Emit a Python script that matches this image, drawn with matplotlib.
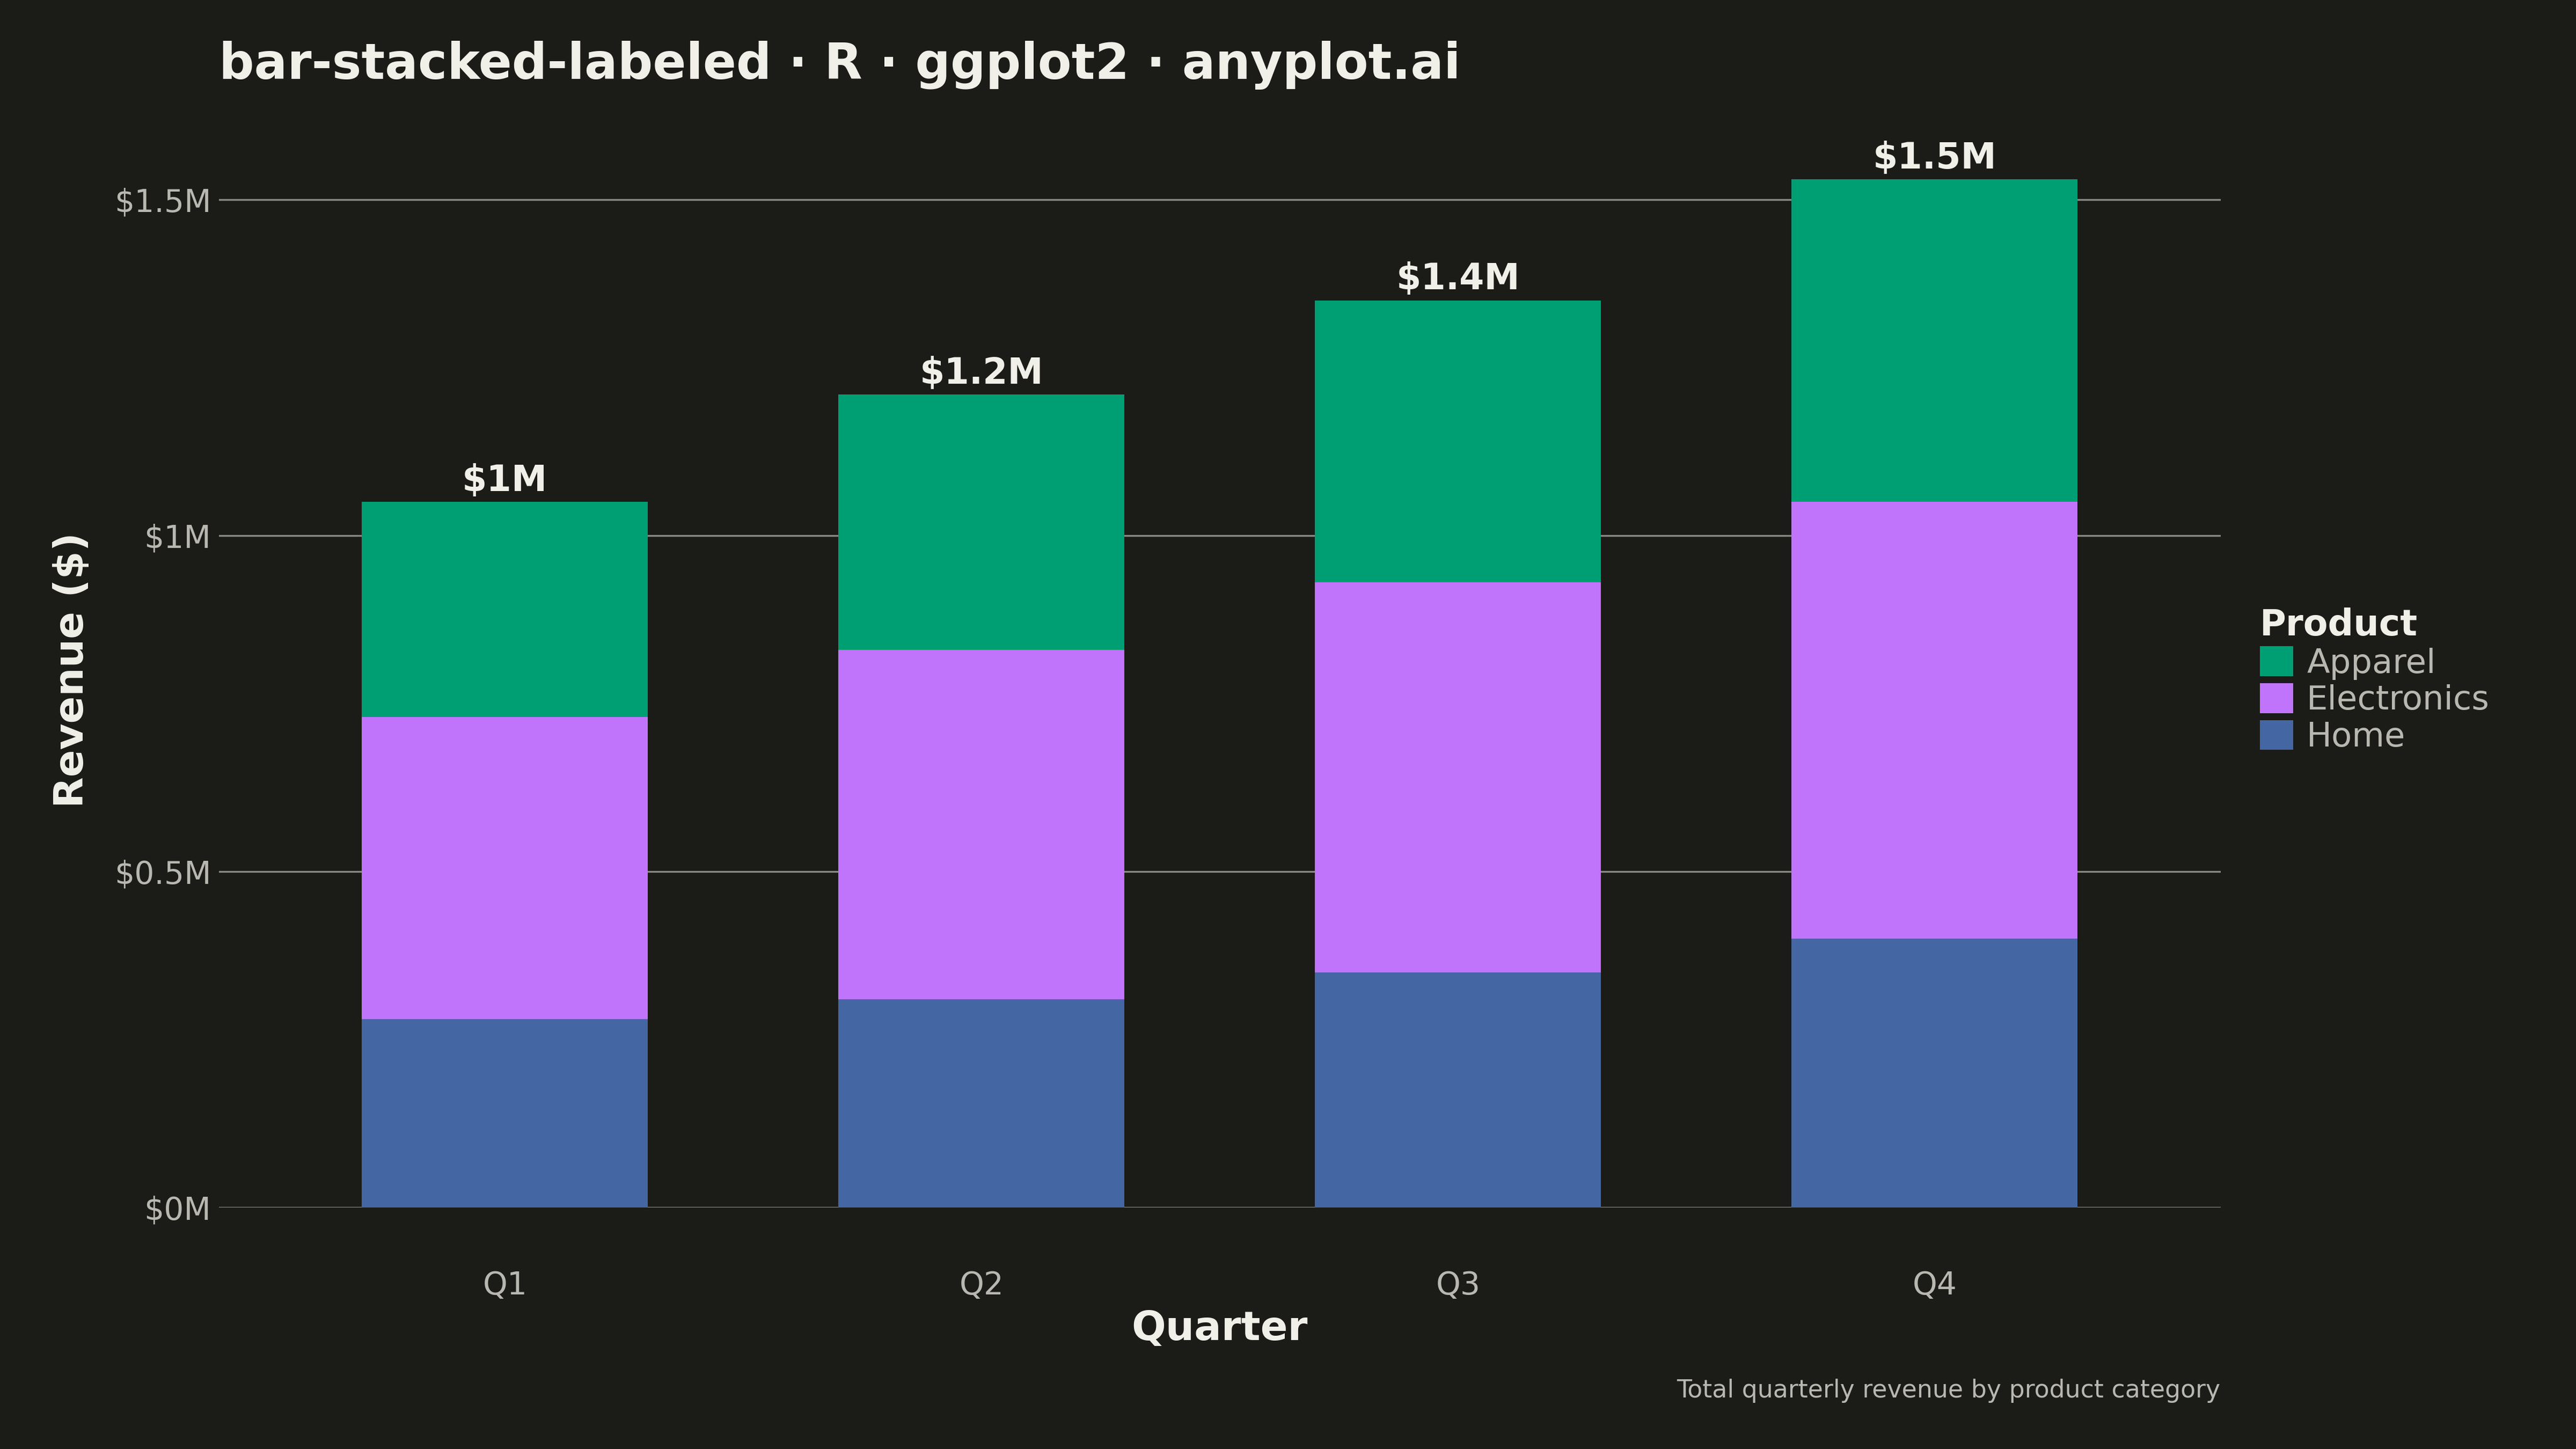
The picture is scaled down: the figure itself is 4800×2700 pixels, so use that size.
import numpy as np
import matplotlib
matplotlib.use("Agg")
import matplotlib.pyplot as plt
from matplotlib.patches import Patch

quarters = ["Q1", "Q2", "Q3", "Q4"]
home = [0.28, 0.31, 0.35, 0.40]
electronics = [0.45, 0.52, 0.58, 0.65]
apparel = [0.32, 0.38, 0.42, 0.48]
total_labels = ["$1M", "$1.2M", "$1.4M", "$1.5M"]
y_ticks = [0, 0.5, 1.0, 1.5]
y_ticklabels = ["$0M", "$0.5M", "$1M", "$1.5M"]

BG = "#1b1b18"
INK = "#f0efe8"
SOFT = "#b8b7b0"
colors = {"Apparel": "#009E73", "Electronics": "#C074FC", "Home": "#4467A3"}

fig = plt.figure(figsize=(16, 9), dpi=300, facecolor=BG)
ax = fig.add_axes([0.085, 0.1667, 0.777, 0.742], facecolor=BG)

x = np.arange(len(quarters))
home = np.array(home)
electronics = np.array(electronics)
apparel = np.array(apparel)
ax.bar(x, home, width=0.6, color=colors["Home"], zorder=2)
ax.bar(x, electronics, width=0.6, bottom=home, color=colors["Electronics"], zorder=2)
ax.bar(x, apparel, width=0.6, bottom=home + electronics, color=colors["Apparel"], zorder=2)

totals = home + electronics + apparel
for xi, t, lbl in zip(x, totals, total_labels):
    ax.text(xi, t + 0.005, lbl, ha="center", va="bottom", color=INK,
            fontsize=16, fontweight="bold", zorder=3)

ax.set_xlim(-0.6, 3.6)
ax.set_ylim(0, 1.6)
ax.set_xticks(x)
ax.set_xticklabels(quarters)
ax.set_yticks(y_ticks)
ax.set_yticklabels(y_ticklabels)
ax.tick_params(length=0, colors=SOFT, labelsize=14)
ax.tick_params(axis="x", pad=28)
ax.grid(axis="y", color="#8a8a85", linewidth=0.8, zorder=1)
for s in ax.spines.values():
    s.set_visible(False)

ax.set_xlabel("Quarter", color=INK, fontsize=18, fontweight="bold", labelpad=4)
ax.set_ylabel("Revenue ($)", color=INK, fontsize=18, fontweight="bold", labelpad=10)

fig.text(0.085, 0.955, "bar-stacked-labeled · R · ggplot2 · anyplot.ai", color=INK,
         fontsize=22, fontweight="bold", ha="left", va="center")
fig.text(0.862, 0.04, "Total quarterly revenue by product category", color=SOFT,
         fontsize=11, ha="right", va="center")

handles = [Patch(facecolor=colors[k], label=k) for k in ["Apparel", "Electronics", "Home"]]
leg = fig.legend(handles=handles, title="Product", loc="upper left",
                 bbox_to_anchor=(0.872, 0.59), frameon=False, fontsize=15,
                 title_fontsize=16, handlelength=1.0, handleheight=1.0,
                 labelspacing=0.1, handletextpad=0.4, borderaxespad=0)
leg.get_title().set_color(INK)
leg.get_title().set_fontweight("bold")
leg._legend_box.align = "left"
for t in leg.get_texts():
    t.set_color(SOFT)

fig.savefig("out.png", dpi=300, facecolor=BG)
